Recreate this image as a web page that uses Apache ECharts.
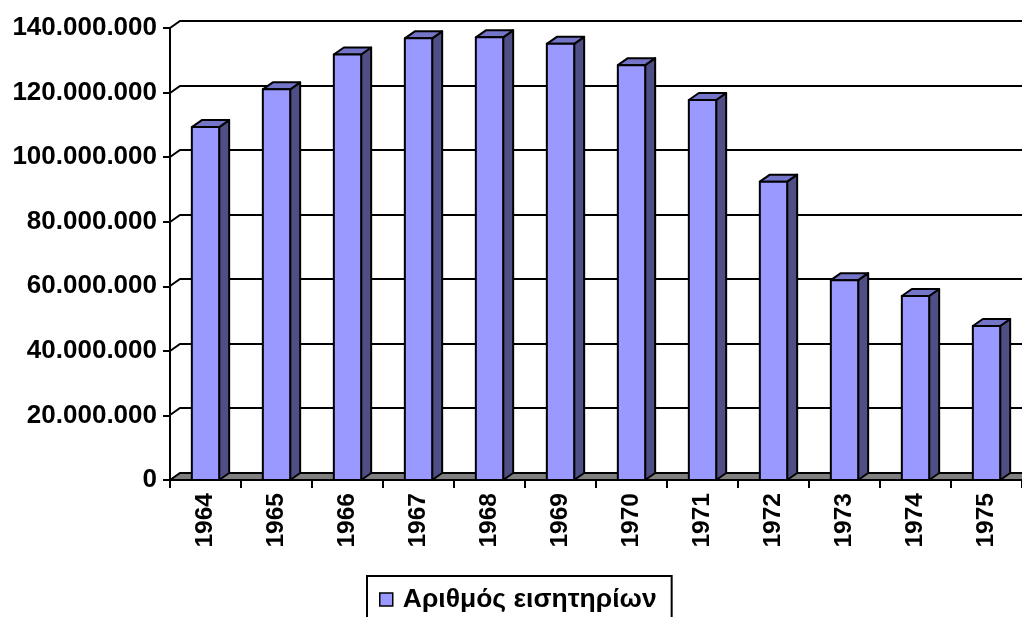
<!DOCTYPE html>
<html><head><meta charset="utf-8">
<script src="https://cdn.jsdelivr.net/npm/echarts@6/dist/echarts.min.js"></script>
<style>html,body{margin:0;padding:0;background:#fff}#c{width:1022px;height:617px}</style>
</head><body><div id="c"></div>
<script>
const years = ['1964','1965','1966','1967','1968','1969','1970','1971','1972','1973','1974','1975'];
const tickets = [109300000,121000000,131800000,136800000,137100000,135100000,128500000,117700000,92400000,61900000,57000000,47700000];
const yTicks = [0,20000000,40000000,60000000,80000000,100000000,120000000,140000000];
const seriesName = 'Αριθμός εισητηρίων';

const DX = 10, DY = -7;
const FONT = '"Liberation Sans", Arial, sans-serif';
function fmt(v){ return String(v).replace(/\B(?=(\d{3})+(?!\d))/g, '.'); }

const chart = echarts.init(document.getElementById('c'), null, {renderer:'canvas'});
chart.setOption({
  animation:false,
  grid:{left:170, right:-1, top:28, bottom:137, containLabel:false},
  xAxis:{type:'category', data:years, boundaryGap:true, z:10,
    axisLine:{lineStyle:{color:'#000', width:2}},
    axisTick:{show:true, length:8, lineStyle:{color:'#000', width:2}},
    axisLabel:{rotate:90, margin:13, color:'#000', fontWeight:'bold', fontSize:24.5, fontFamily:FONT},
    splitLine:{show:false}},
  yAxis:{type:'value', min:0, max:140000000, interval:20000000, z:10,
    axisLine:{show:true, lineStyle:{color:'#000', width:2}},
    axisTick:{show:true, length:7, lineStyle:{color:'#000', width:2}},
    axisLabel:{formatter:fmt, margin:13, color:'#000', fontWeight:'bold', fontSize:26, fontFamily:FONT},
    splitLine:{show:false}},
  legend:{left:367, top:576, orient:'horizontal', padding:[10,15,30,12],
    borderColor:'#000', borderWidth:2, itemWidth:13, itemHeight:13, itemGap:0, icon:'rect',
    data:[{name:seriesName, itemStyle:{color:'#9999ff', borderColor:'#000', borderWidth:1.5}}],
    textStyle:{fontSize:26.5, fontWeight:'bold', color:'#000', fontFamily:FONT, padding:[0,0,0,5]}},
  series:[
    {type:'custom', name:'walls', silent:true, z:1,
      data: yTicks.map(v => [0, v]),
      encode:{x:0, y:1},
      renderItem:function(params, api){
        const v = api.value(1);
        const p = api.coord([0, v]);
        const cs = params.coordSys;
        const xl = cs.x, xr = cs.x + cs.width + 20;
        const y = Math.round(p[1]);
        if (v === 0) {
          return {type:'polygon', shape:{points:[[xl,y],[xl+DX,y+DY],[xr,y+DY],[xr,y]]},
            style:{fill:'#808080', stroke:'#000', lineWidth:2}};
        }
        return {type:'polyline', shape:{points:[[xl,y],[xl+DX,y+DY],[xr,y+DY]]},
          style:{stroke:'#000', lineWidth:2, fill:null}};
      }},
    {type:'custom', name:seriesName, z:3,
      data: tickets.map((v,i) => [i, v]),
      encode:{x:0, y:1},
      itemStyle:{color:'#9999ff'},
      renderItem:function(params, api){
        const i = api.value(0), v = api.value(1);
        const top = api.coord([i, v]);
        const bot = api.coord([i, 0]);
        const w = api.size([1, 0])[0] * 0.385;
        const x0 = top[0] - w/2, x1 = top[0] + w/2, yt = top[1], yb = bot[1];
        const s = {stroke:'#000', lineWidth:2, lineJoin:'round'};
        return {type:'group', children:[
          {type:'polygon', shape:{points:[[x1,yb],[x1,yt],[x1+DX,yt+DY],[x1+DX,yb+DY]]}, style:Object.assign({fill:'#4f4f86'}, s)},
          {type:'polygon', shape:{points:[[x0,yt],[x0+DX,yt+DY],[x1+DX,yt+DY],[x1,yt]]}, style:Object.assign({fill:'#7474c8'}, s)},
          {type:'rect', shape:{x:x0, y:yt, width:w, height:yb-yt}, style:Object.assign({fill:'#9999ff'}, s)}
        ]};
      }}
  ]
});
</script></body></html>
